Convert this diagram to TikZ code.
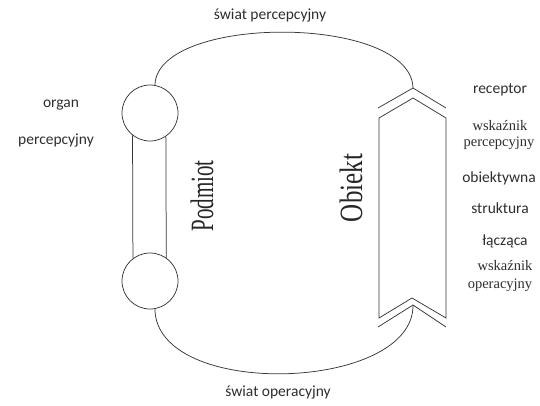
\documentclass[tikz,border=0pt]{standalone}
\usepackage{fontspec}
\setmainfont{Liberation Serif}
\newfontfamily\carl{Carlito}
\begin{document}
\begin{tikzpicture}[x=1pt,y=-1pt]
\tikzset{
  ln/.style={draw=black!78, line width=0.75pt},
  lab/.style={font=\carl\fontsize{15.5}{18}\selectfont, text=black!82, anchor=base, inner sep=0pt},
  slab/.style={font=\fontsize{14.5}{17}\selectfont, text=black!82, anchor=base, inner sep=0pt},
  big/.style={text=black!85, rotate=90, inner sep=0pt},
  ring/.style={ln, circle, minimum size=56pt, inner sep=0pt}
}
\useasboundingbox (0,0) rectangle (540,405);
\fill[white] (0,0) rectangle (540,405);

% Podmiot: two organs joined by a bar
\node[ring] (c1) at (150,113) {};
\node[ring] (c2) at (150,281) {};
\draw[ln] (c1.232.6) -- (c2.127.4);
\draw[ln] (c1.304.8) -- (c2.55.2);

% Obiekt: body with receptor (top) and indicator (bottom)
\coordinate (rt) at (413,88);
\coordinate (rb) at (413,305);
\draw[ln] (378,108) -- (rt) -- (446,108);
\draw[ln] (379,118) -- (413,98) -- (446,118) -- (446,318) -- (412,298) -- (379,318) -- cycle;
\draw[ln] (378,327) -- (rb) -- (446,327);

% worlds
\draw[ln] (c1.80) .. controls (157,14) and (411,14) .. (rt);
\draw[ln] (c2.280) .. controls (156,400) and (414,392) .. (rb);

% labels
\node[lab] (tp) at (270,19) {świat percepcyjny};
\node[lab] (bt) at (278,396) {świat operacyjny};
\node[lab] (org1) at (61,107) {organ};
\node[lab] (org2) at (56,144) {percepcyjny};
\node[lab] (rec) at (500,93) {receptor};
\node[slab] (wp1) at (500,130) {wskaźnik};
\node[slab] (wp2) at (499,146) {percepcyjny};
\node[lab] (ob) at (499,182) {obiektywna};
\node[lab] (st) at (500,213) {struktura};
\node[lab] (la) at (505,245) {łącząca};
\node[slab] (wo1) at (505,270) {wskaźnik};
\node[slab] (wo2) at (500,288) {operacyjny};
\node[big] (pod) at (202,196) {\fontsize{21}{24}\selectfont\scalebox{1}[1.55]{Podmiot}};
\node[big] (obj) at (351,188) {\fontsize{25}{28}\selectfont\scalebox{1}[1.3]{Obiekt}};
\end{tikzpicture}
\end{document}
